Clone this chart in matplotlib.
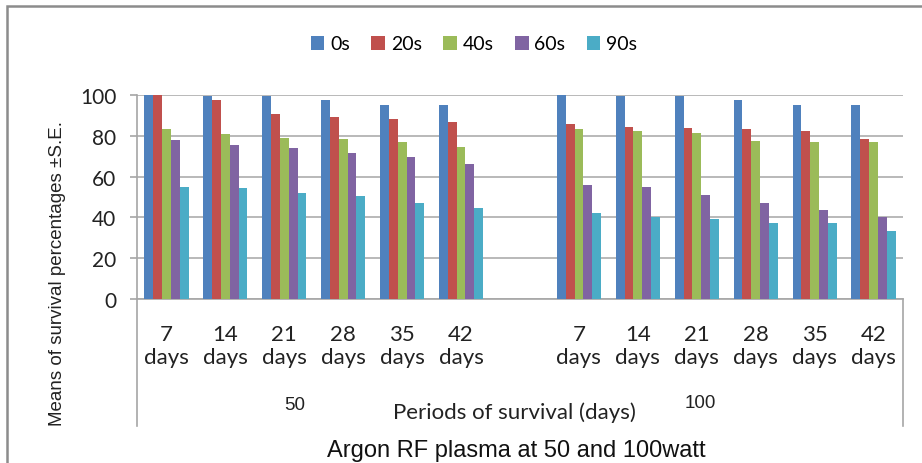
import numpy as np
import matplotlib
matplotlib.use('Agg')
import matplotlib.pyplot as plt
from matplotlib.lines import Line2D
from matplotlib.patches import Patch, Rectangle

######################### Data ###########################
DAYS      = ['7', '14', '21', '28', '35', '42']
POWERS    = ['50', '100']
SERIES    = ['0s', '20s', '40s', '60s', '90s']
COLORS    = ['#4F81BD', '#C0504D', '#9BBB59', '#8064A2', '#4BACC6']

# survival % at 50 watt, one list per exposure time
w50_0s  = [100, 99.7, 99.7, 97.5, 95.3, 95.3]
w50_20s = [100, 97.7, 90.5, 89.2, 88.2, 86.9]
w50_40s = [83.3, 80.9, 78.9, 78.6, 77.0, 74.3]
w50_60s = [78.0, 75.7, 73.9, 71.6, 69.8, 66.0]
w50_90s = [54.7, 54.2, 51.8, 50.6, 47.0, 44.6]

# survival % at 100 watt
w100_0s  = [100, 99.7, 99.7, 97.5, 95.3, 95.3]
w100_20s = [85.8, 84.5, 83.8, 83.3, 82.2, 78.6]
w100_40s = [83.3, 82.2, 81.5, 77.5, 77.0, 77.0]
w100_60s = [55.9, 54.7, 51.1, 47.0, 43.5, 40.0]
w100_90s = [42.3, 40.4, 39.4, 37.1, 37.1, 33.3]
##########################################################

plt.rcParams['font.family'] = ['Lato', 'DejaVu Sans']

w50  = [w50_0s, w50_20s, w50_40s, w50_60s, w50_90s]
w100 = [w100_0s, w100_20s, w100_40s, w100_60s, w100_90s]

# 13 category slots: 6 for 50 W, an empty one, 6 for 100 W
xs50  = np.arange(len(DAYS))
xs100 = np.arange(len(DAYS)) + len(DAYS) + 1
xall  = np.concatenate([xs50, xs100])

fig = plt.figure(figsize=(9.22, 4.64), dpi=100)
ax = fig.add_axes([137/922, 1-300/464, (903-137)/922, (300-96)/464])

width = 0.15
for k in range(len(SERIES)):
    off = (k - 2) * width
    ax.bar(xs50 + off, w50[k], width, color=COLORS[k], zorder=3)
    ax.bar(xs100 + off, w100[k], width, color=COLORS[k], zorder=3)

ax.set_xlim(-0.5, len(DAYS)*2 + 0.5)
ax.set_ylim(0, 100)
ax.set_yticks(np.arange(0, 101, 20))
ax.yaxis.grid(True, color='#b3b3b3', linewidth=1.3, zorder=0)
ax.set_axisbelow(True)

for s in ['top', 'right']:
    ax.spines[s].set_visible(False)
for s in ['left', 'bottom']:
    ax.spines[s].set_color('#a6a6a6')
    ax.spines[s].set_linewidth(1.2)

ax.set_xticks(xall)
ax.set_xticklabels(['{}\ndays'.format(d) for d in DAYS] * 2, linespacing=1.2)
ax.tick_params(axis='x', length=0, pad=18, labelsize=16, colors='#222222')
ax.tick_params(axis='y', length=5, width=1.2, color='#a6a6a6', pad=10,
               labelsize=15, labelcolor='#222222')

# end lines of the multi-level category axis
for xa in [0, 1]:
    ax.add_line(Line2D([xa, xa], [0, -127/204], transform=ax.transAxes,
                       color='#a6a6a6', linewidth=1.2, clip_on=False))

# group labels
fig.text(295/922, 1-406/464, POWERS[0], fontsize=13.5, ha='center', va='center',
         family='Liberation Sans', color='#222222')
fig.text(700/922, 1-404/464, POWERS[1], fontsize=13.5, ha='center', va='center',
         family='Liberation Sans', color='#222222')

# axis titles
fig.text(514/922, 1-413/464, 'Periods of survival (days)', fontsize=16,
         ha='center', va='center', color='#222222')
fig.text(58/922, 1-273/464, 'Means of survival percentages \u00b1S.E.', fontsize=13.5,
         rotation=90, ha='center', va='center', family='Liberation Sans', color='#222222')
fig.text(516/922, 1-462/464, 'Argon RF plasma at 50 and 100watt', fontsize=17,
         ha='center', va='bottom', family='Liberation Sans', color='#111111')

# legend
handles = [Patch(facecolor=c, edgecolor='none') for c in COLORS]
fig.legend(handles, SERIES, loc='center', bbox_to_anchor=(474/922, 1-45/464),
           ncol=5, frameon=False, fontsize=14, handlelength=0.7, handleheight=0.7,
           handletextpad=0.3, columnspacing=1.1)

# chart frame
fig.add_artist(Rectangle((7/922, -0.1), 1.0, 1-7/464+0.1, transform=fig.transFigure,
                         fill=False, edgecolor='#8c8c8c', linewidth=1.8))

fig.savefig('out.png', dpi=100)
